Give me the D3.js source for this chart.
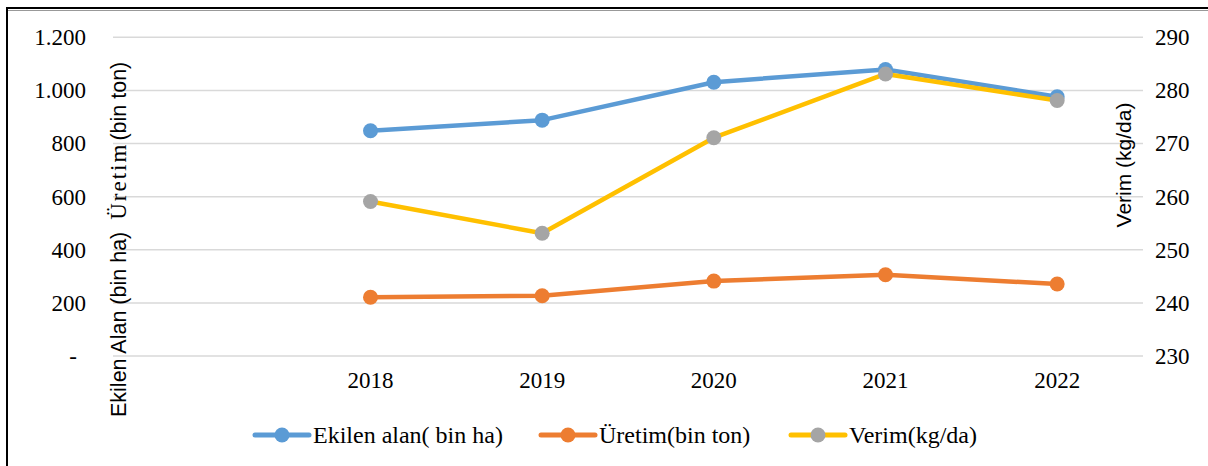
<!DOCTYPE html>
<html>
<head>
<meta charset="utf-8">
<script src="https://cdn.jsdelivr.net/npm/d3@7"></script>
<style>
  body { margin: 0; background: #fff; }
  svg { display: block; }
  .serif { font-family: "Liberation Serif", "DejaVu Serif", serif; }
  .sans { font-family: "Liberation Sans", "DejaVu Sans", sans-serif; }
</style>
</head>
<body>
<svg id="chart" width="1208" height="466"></svg>
<script>
// data
const years = ["", "2018", "2019", "2020", "2021", "2022"];
const ekilenAlan = [848, 888, 1031, 1079, 976];
const uretim = [221, 227, 282, 306, 271];
const verim = [259.1, 253.1, 271.1, 283.1, 278.1];
const leftTicks = [0, 200, 400, 600, 800, 1000, 1200];
const rightTicks = [230, 240, 250, 260, 270, 280, 290];
const seriesNames = ["Ekilen alan( bin ha)", "Üretim(bin ton)", "Verim(kg/da)"];

var svg = d3.select("#chart");

// frame
svg.append("line").attr("x1", 7).attr("x2", 1208).attr("y1", 8).attr("y2", 8)
  .attr("stroke", "#000").attr("stroke-width", 2);
svg.append("line").attr("x1", 8).attr("x2", 1208).attr("y1", 10.5).attr("y2", 10.5)
  .attr("stroke", "#999").attr("stroke-width", 1);
svg.append("line").attr("x1", 7).attr("x2", 7).attr("y1", 7).attr("y2", 466)
  .attr("stroke", "#000").attr("stroke-width", 2);

let x = d3.scaleBand().domain(years).range([113, 1143]).padding(0);
let xc = d => x(d) + x.bandwidth() / 2;
let yL = d3.scaleLinear().domain([0, 1200]).range([356, 37.3]);
let yR = d3.scaleLinear().domain([230, 290]).range([356, 37.3]);

// grid
svg.selectAll(".grid")
  .data(leftTicks)
  .enter()
  .append("line")
  .attr("class", "grid")
  .attr("x1", 113).attr("x2", 1143)
  .attr("y1", d => yL(d)).attr("y2", d => yL(d))
  .attr("stroke", "#d9d9d9").attr("stroke-width", 1.5);

function styleAxis(g) {
  g.attr("font-family", null).attr("font-size", null);
  g.select(".domain").remove();
  g.selectAll("text")
    .attr("class", "serif")
    .style("font-size", "23px")
    .attr("fill", "#000");
}

// left axis labels
let fmt = d => d === 0 ? "-" : d3.format(",")(d).replace(",", ".");
let leftAxis = svg.append("g").attr("transform", "translate(86,0)")
  .call(d3.axisLeft(yL).tickValues(leftTicks).tickFormat(fmt).tickSize(0).tickPadding(0))
  .call(styleAxis);
leftAxis.selectAll("text").attr("dx", d => d === 0 ? -9 : 0);

// right axis labels
svg.append("g").attr("transform", "translate(1155,0)")
  .call(d3.axisRight(yR).tickValues(rightTicks).tickSize(0).tickPadding(0))
  .call(styleAxis);

// x labels
svg.append("g").attr("transform", "translate(0,372)")
  .call(d3.axisBottom(x).tickSize(0).tickPadding(0))
  .call(styleAxis);

// axis titles
let lt = svg.append("text")
  .attr("transform", "translate(126,417) rotate(-90)")
  .style("font-size", "21.5px").attr("fill", "#000");
lt.append("tspan").attr("class", "sans").text("Ekilen Alan (bin ha)");
lt.append("tspan").attr("class", "serif").attr("dx", 12)
  .style("font-size", "23px").style("letter-spacing", "2px").text("Üretim");
lt.append("tspan").attr("class", "sans").attr("dx", 2).text("(bin ton)");

svg.append("text")
  .attr("class", "sans")
  .attr("transform", "translate(1131,165) rotate(-90)")
  .attr("text-anchor", "middle")
  .style("font-size", "21px").attr("fill", "#000")
  .text("Verim (kg/da)");

// series
const series = [
  { name: seriesNames[0], values: ekilenAlan, y: yL, line: "#5B9BD5", dot: "#5B9BD5" },
  { name: seriesNames[1], values: uretim, y: yL, line: "#ED7D31", dot: "#ED7D31" },
  { name: seriesNames[2], values: verim, y: yR, line: "#FFC000", dot: "#A5A5A5" }
];
const yrs = years.slice(1);

series.forEach(function (s) {
  let line = d3.line().x((d, i) => xc(yrs[i])).y(d => s.y(d));
  svg.append("path")
    .attr("d", line(s.values))
    .attr("fill", "none")
    .attr("stroke", s.line)
    .attr("stroke-width", 4.5)
    .attr("stroke-linejoin", "round");
  svg.selectAll(null)
    .data(s.values)
    .enter()
    .append("circle")
    .attr("cx", (d, i) => xc(yrs[i]))
    .attr("cy", d => s.y(d))
    .attr("r", 7.5)
    .attr("fill", s.dot);
});

// legend
const legendX = [255, 541, 791];
let legend = svg.selectAll(".legend")
  .data(series)
  .enter()
  .append("g")
  .attr("class", "legend")
  .attr("transform", (d, i) => `translate(${legendX[i]},435)`);
legend.append("line")
  .attr("x1", 0).attr("x2", 54)
  .attr("stroke", d => d.line).attr("stroke-width", 5).attr("stroke-linecap", "round");
legend.append("circle")
  .attr("cx", 27).attr("r", 7.5).attr("fill", d => d.dot);
legend.append("text")
  .attr("class", "serif")
  .attr("x", 58).attr("y", 8)
  .style("font-size", "24px").attr("fill", "#000")
  .text(d => d.name);
</script>
</body>
</html>
